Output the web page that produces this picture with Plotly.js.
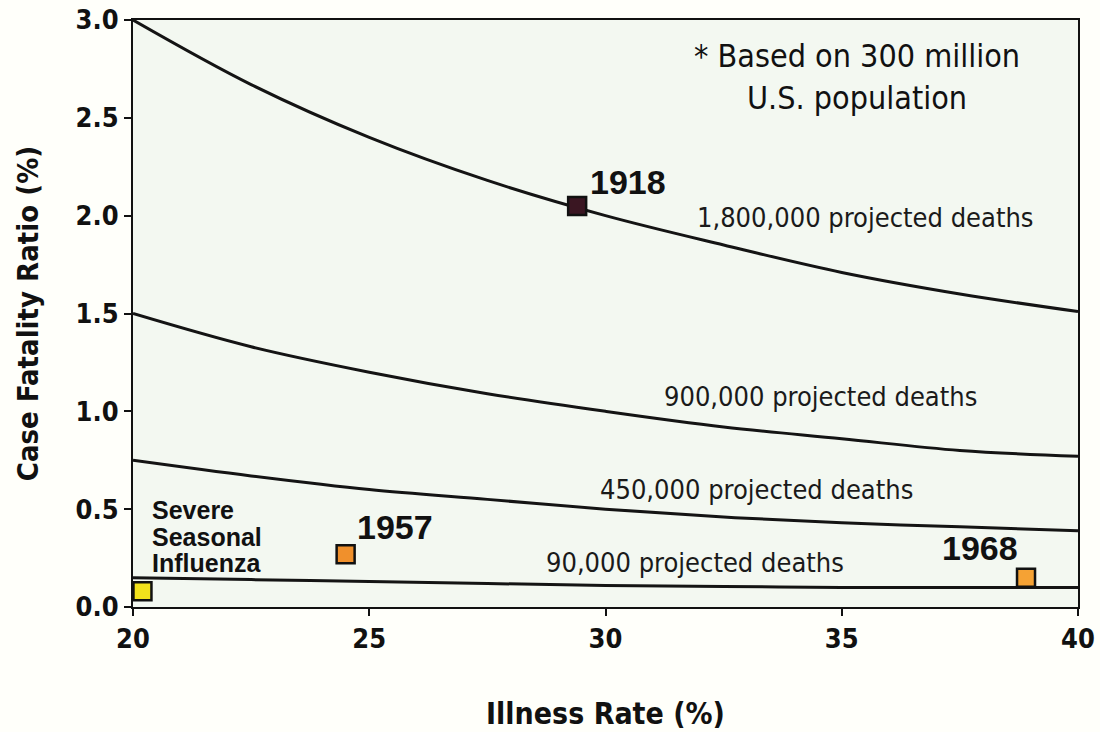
<!DOCTYPE html>
<html>
<head>
<meta charset="utf-8">
<script src="https://cdn.plot.ly/plotly-3.0.1.min.js"></script>
<style>html,body{margin:0;padding:0;background:#fffffa;}</style>
</head>
<body>
<div id="chart" style="width:1100px;height:732px;"></div>
<script>
// Illness rate (%) sample points
const illnessRate = [20, 22.5, 25, 27.5, 30, 32.5, 35, 37.5, 40];
// Case fatality ratio (%)
const cfr1800k = [3.0, 2.67, 2.40, 2.18, 2.0, 1.85, 1.71, 1.60, 1.51];
const cfr900k  = [1.5, 1.33, 1.20, 1.09, 1.0, 0.92, 0.86, 0.80, 0.77];
const cfr450k  = [0.75, 0.67, 0.60, 0.55, 0.50, 0.46, 0.43, 0.41, 0.39];
const cfr90k   = [0.15, 0.14, 0.13, 0.12, 0.11, 0.105, 0.10, 0.10, 0.10];
const curveLabels = ["1,800,000 projected deaths", "900,000 projected deaths", "450,000 projected deaths", "90,000 projected deaths"];

// Pandemic / seasonal points
const eventNames = ["Severe Seasonal Influenza", "1957", "1918", "1968"];
const eventX = [20.2, 24.5, 29.4, 38.9];
const eventY = [0.08, 0.27, 2.05, 0.15];
const eventColors = ["#f2e21c", "#f0902c", "#3a1622", "#f5a234"];
const seasonalLines = ["Severe", "Seasonal", "Influenza"];

const lineStyle = {color: "#141414", width: 3, shape: "spline"};
const curves = [cfr1800k, cfr900k, cfr450k, cfr90k];
const traces = curves.map((c, i) => ({
  x: illnessRate, y: c, type: "scatter", mode: "lines",
  line: lineStyle, name: curveLabels[i], hoverinfo: "x+y"
}));
traces.push({
  x: eventX, y: eventY, type: "scatter", mode: "markers",
  marker: {symbol: "square", size: 18, color: eventColors, line: {color: "#111", width: 2.5}},
  text: eventNames, hoverinfo: "text"
});

const narrow = "'DejaVu Sans Condensed', 'DejaVu Sans', sans-serif";
const boldFont = "'Liberation Sans', Arial, sans-serif";

const annotations = [
  {x: 35.49, y: 1.99, text: curveLabels[0]},
  {x: 34.54, y: 1.074, text: curveLabels[1]},
  {x: 33.2, y: 0.598, text: curveLabels[2]},
  {x: 31.9, y: 0.23, text: curveLabels[3]}
].map(a => Object.assign(a, {
  xref: "x", yref: "y", showarrow: false,
  font: {family: narrow, size: 27, color: "#1a1a1a"}
}));

annotations.push(
  {x: 29.63, y: 2.17, xref: "x", yref: "y", text: "<b>1918</b>", showarrow: false, xanchor: "left",
   font: {family: boldFont, size: 34, color: "#111"}},
  {x: 24.70, y: 0.41, xref: "x", yref: "y", text: "<b>1957</b>", showarrow: false, xanchor: "left",
   font: {family: boldFont, size: 34, color: "#111"}},
  {x: 37.93, y: 0.30, xref: "x", yref: "y", text: "<b>1968</b>", showarrow: false, xanchor: "center",
   font: {family: boldFont, size: 34, color: "#111"}},
  {x: 35.32, y: 2.71, xref: "x", yref: "y", text: "* Based on 300 million<br>U.S. population", showarrow: false,
   align: "center",
   font: {family: narrow, size: 32, color: "#111"}}
);
const seasonalY = [0.496, 0.358, 0.225];
seasonalLines.forEach((t, i) => annotations.push({
  x: 20.36, y: seasonalY[i], xref: "x", yref: "y", text: "<b>" + t + "</b>", showarrow: false,
  xanchor: "left", font: {family: boldFont, size: 25, color: "#111"}
}));

const tickFont = {family: narrow, size: 27, color: "#111", weight: "bold"};

const layout = {
  width: 1100, height: 732,
  margin: {l: 133, r: 22, t: 20, b: 125},
  paper_bgcolor: "#fffffa",
  plot_bgcolor: "#f3f8f1",
  showlegend: false,
  xaxis: {
    range: [20, 40], tickvals: [20, 25, 30, 35, 40], ticktext: ["20", "25", "30", "35", "40"],
    showgrid: false, zeroline: false, showline: true, mirror: true, linecolor: "#111", linewidth: 2,
    ticks: "outside", ticklen: 7, tickwidth: 2, tickcolor: "#111",
    tickfont: tickFont,
    title: {text: "<b>Illness Rate (%)</b>", standoff: 50,
            font: {family: narrow, size: 30, color: "#111"}}
  },
  yaxis: {
    range: [0, 3.0], tickvals: [0, 0.5, 1.0, 1.5, 2.0, 2.5, 3.0],
    ticktext: ["0.0", "0.5", "1.0", "1.5", "2.0", "2.5", "3.0"],
    showgrid: false, zeroline: false, showline: true, mirror: true, linecolor: "#111", linewidth: 2,
    ticks: "outside", ticklen: 7, tickwidth: 2, tickcolor: "#111",
    tickfont: tickFont,
    title: {text: "<b>Case Fatality Ratio (%)</b>", standoff: 28,
            font: {family: narrow, size: 29, color: "#111"}}
  },
  annotations: annotations
};

Plotly.newPlot("chart", traces, layout, {displayModeBar: false, staticPlot: true});
</script>
</body>
</html>
